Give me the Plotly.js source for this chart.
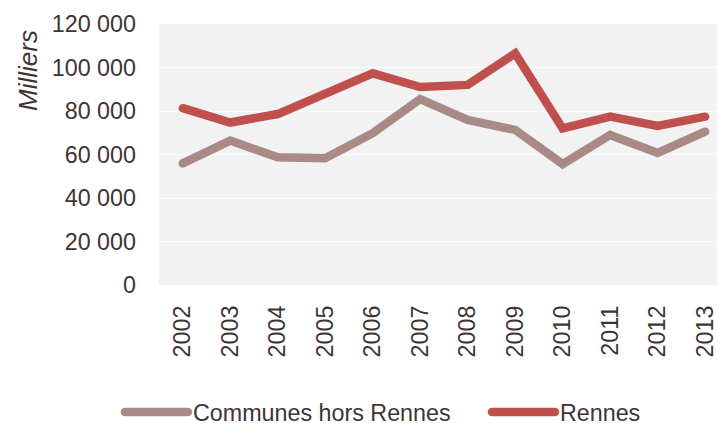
<!DOCTYPE html>
<html>
<head>
<meta charset="utf-8">
<script src="https://cdn.plot.ly/plotly-3.0.1.min.js"></script>
<style>
html,body{margin:0;padding:0;background:#fff;}
#chart{width:717px;height:423px;}
#chart path.js-line{stroke-linecap:round;}
</style>
</head>
<body>
<div id="chart"></div>
<script>
const years = ["2002","2003","2004","2005","2006","2007","2008","2009","2010","2011","2012","2013"];
const communesHorsRennes = [55900, 66400, 58700, 58300, 69800, 85500, 75900, 71300, 55600, 69000, 60700, 70500];
const rennes = [81300, 74700, 78600, 87900, 97300, 91000, 92000, 106500, 72000, 77400, 73100, 77400];
const yTicks = [0, 20000, 40000, 60000, 80000, 100000, 120000];
const yTitle = "Milliers";

const textColor = "#3d3435";
const fam = "Liberation Sans, Arial, sans-serif";
const font = {family: fam, size: 23.3, color: textColor};

const traces = [
  {x: years, y: communesHorsRennes, name: "Communes hors Rennes", type: "scatter", mode: "lines",
   line: {color: "#a98a86", width: 8.5}, legendwidth: 289},
  {x: years, y: rennes, name: "Rennes", type: "scatter", mode: "lines",
   line: {color: "#c0504d", width: 8.5}}
];

const layout = {
  width: 717, height: 423,
  margin: {l: 159, r: 0, t: 24, b: 137.5, pad: 0, autoexpand: false},
  paper_bgcolor: "#ffffff",
  plot_bgcolor: "#f2f2f2",
  font: font,
  separators: ", ",
  showlegend: true,
  legend: {orientation: "h", x: -0.07, xanchor: "left", y: -0.4876, yanchor: "middle",
           font: font, itemwidth: 63,
           traceorder: "normal", bgcolor: "rgba(0,0,0,0)"},
  xaxis: {type: "category", range: [-0.5, 11.25], tickangle: -90, showgrid: false,
          zeroline: false, showline: false, ticks: "", ticklabelstandoff: 15,
          tickfont: font, fixedrange: true},
  yaxis: {range: [0, 120000], tickvals: yTicks, tickformat: ",d", showgrid: true,
          gridcolor: "#fbfbfb", gridwidth: 1, zeroline: false, showline: false, ticks: "",
          ticklabelstandoff: 22, tickfont: font},
  annotations: [{text: yTitle, xref: "paper", yref: "paper", x: (28 - 159) / 558, y: (285.5 - 71) / 261.5,
                 xanchor: "center", yanchor: "middle", textangle: -90, showarrow: false,
                 font: {family: fam, size: 26, color: textColor}}]
};

Plotly.newPlot("chart", traces, layout, {staticPlot: true, displayModeBar: false}).then(function(){
  document.querySelectorAll('#chart .annotation-text').forEach(function(t){ t.style.fontStyle = 'italic'; });
  document.querySelectorAll('#chart .legendlines path, #chart path.js-line').forEach(function(p){ p.style.strokeLinecap = 'round'; });
});
</script>
</body>
</html>
